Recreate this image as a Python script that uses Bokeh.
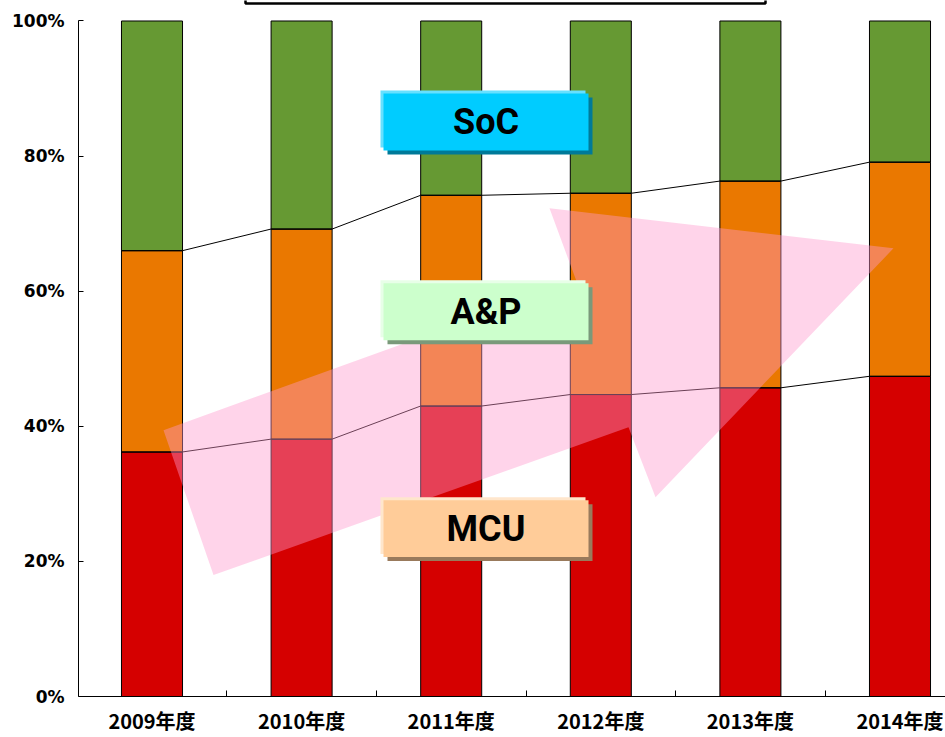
import numpy as np
from bokeh.plotting import figure
from bokeh.models import Range1d, FixedTicker, Label
from bokeh.embed import file_html
from bokeh.resources import INLINE
from bokeh.core.properties import value

# ---- data (shares in %) ----
years = ["2009年度", "2010年度", "2011年度", "2012年度", "2013年度", "2014年度"]
mcu = [36.2, 38.1, 43.0, 44.7, 45.7, 47.4]
ap = [29.8, 31.1, 31.2, 29.8, 30.6, 31.7]
soc = [34.0, 30.8, 25.8, 25.5, 23.7, 20.9]
y_ticks = [0, 20, 40, 60, 80, 100]
y_tick_labels = ["0%", "20%", "40%", "60%", "80%", "100%"]
series_names = ["MCU", "A&P", "SoC"]

# ---- styling / layout ----
RED, ORANGE, GREEN = "#d50000", "#ea7800", "#669933"
BAR_W = 0.408
X0_PX, DX_PX = 151.5, 149.6
Y0_PX, DY_PX = 696.5, 6.76


def sx(px):
    return (px - X0_PX) / DX_PX


def sy(py):
    return (Y0_PX - py) / DY_PX


p = figure(width=945, height=737, output_backend="svg", toolbar_location=None,
           x_range=Range1d(sx(78), sx(945)), y_range=Range1d(0, sy(0)),
           min_border_left=78, min_border_right=0, min_border_top=0,
           min_border_bottom=41)
p.outline_line_color = None
p.xgrid.grid_line_color = None
p.ygrid.grid_line_color = None
p.background_fill_color = "white"

x = np.arange(len(years))
mcu_a = np.array(mcu)
ap_top = mcu_a + np.array(ap)
soc_top = ap_top + np.array(soc)

p.vbar(x=x, width=BAR_W, bottom=0, top=mcu_a, fill_color=RED,
       line_color="black", line_width=1)
p.vbar(x=x, width=BAR_W, bottom=mcu_a, top=ap_top, fill_color=ORANGE,
       line_color="black", line_width=1)
p.vbar(x=x, width=BAR_W, bottom=ap_top, top=soc_top, fill_color=GREEN,
       line_color="black", line_width=1)

# connecting lines
lx = np.ravel(np.column_stack([x - BAR_W / 2, x + BAR_W / 2]))
p.line(lx, np.repeat(mcu_a, 2), line_color="black", line_width=1)
p.line(lx, np.repeat(ap_top, 2), line_color="black", line_width=1)

# pink arrow (decoration)
arrow_px = [(163, 430), (213, 575), (628, 427), (655, 497), (893, 248),
            (549, 208), (576, 281)]
p.patch([sx(a) for a, b in arrow_px], [sy(b) for a, b in arrow_px],
        fill_color="#ff99cc", fill_alpha=0.42, line_color=None)

# label boxes
boxes = [("SoC", 93, "#00ccff", "#66e0ff", "#007a99"),
         ("A&P", 283, "#ccffcc", "#e8ffe8", "#7a997a"),
         ("MCU", 500, "#ffcc99", "#ffe6cc", "#997a5c")]
BL, BR, BH = 383, 588, 57
for name, top, main, light, dark in boxes:
    p.quad(left=sx(BL + 4), right=sx(BR + 4), top=sy(top + 4), bottom=sy(top + BH + 4),
           fill_color=dark, line_color=None)
    p.quad(left=sx(BL - 3), right=sx(BR - 3), top=sy(top - 3), bottom=sy(top + BH - 3),
           fill_color=light, line_color=None)
    p.quad(left=sx(BL), right=sx(BR), top=sy(top), bottom=sy(top + BH),
           fill_color=main, line_color=None)
    p.add_layout(Label(x=sx((BL + BR) / 2), y=sy(top + BH / 2), text=name,
                       text_align="center", text_baseline="middle",
                       text_font="Roboto", text_font_style="bold",
                       text_font_size="36px", text_color="black"))

# title box fragment at the top
p.quad(left=sx(245), right=sx(765), top=sy(-30), bottom=sy(3),
       fill_color="white", line_color="black", line_width=2.5)

# axes
ya = p.yaxis[0]
ya.ticker = FixedTicker(ticks=y_ticks, minor_ticks=[])
ya.major_label_overrides = {t: l for t, l in zip(y_ticks, y_tick_labels)}
ya.bounds = (0, 100)
ya.major_tick_in = 5
ya.major_tick_out = 0
ya.major_label_standoff = 14
ya.major_label_text_font = "DejaVu Sans"
ya.major_label_text_font_style = "bold"
ya.major_label_text_font_size = "17px"
ya.major_label_text_color = "black"
ya.axis_line_color = "black"
ya.major_tick_line_color = "black"

xa = p.xaxis[0]
xa.ticker = FixedTicker(ticks=list(range(len(years))),
                        minor_ticks=[i - 0.5 for i in range(len(years) + 1)])
xa.major_label_overrides = {i: y for i, y in enumerate(years)}
xa.major_tick_line_color = None
xa.minor_tick_line_color = "black"
xa.minor_tick_in = 6
xa.minor_tick_out = 0
xa.major_label_standoff = 3
xa.major_label_text_font = "Noto Sans CJK JP"
xa.major_label_text_font_style = "bold"
xa.major_label_text_font_size = "20px"
xa.major_label_text_color = "black"
xa.axis_line_color = "black"

open("out.html", "w").write(file_html(p, INLINE))
